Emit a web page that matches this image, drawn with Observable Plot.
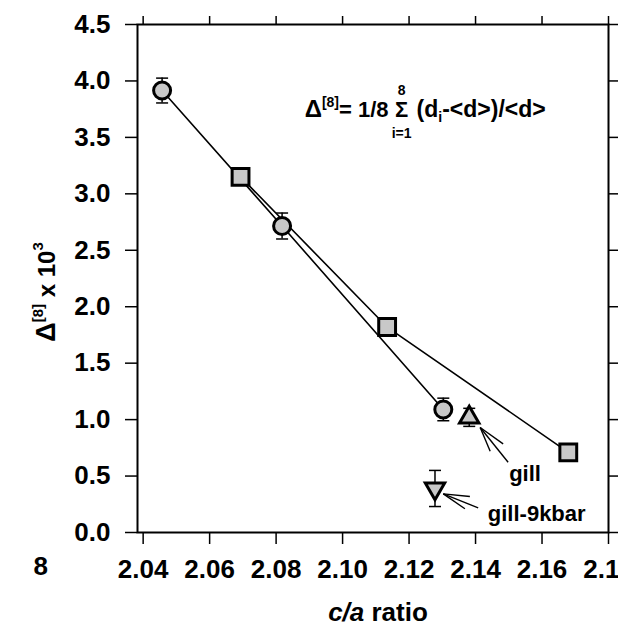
<!DOCTYPE html>
<html>
<head>
<meta charset="utf-8">
<script src="https://cdn.jsdelivr.net/npm/d3@7"></script>
<script src="https://cdn.jsdelivr.net/npm/@observablehq/plot@0.6"></script>
<style>
  html, body { margin: 0; padding: 0; background: white; overflow: hidden; }
  #chart { width: 618px; height: 628px; overflow: hidden; }
</style>
</head>
<body>
<div id="chart"></div>
<script>
// ---- data ----
const xTicks = [2.04, 2.06, 2.08, 2.10, 2.12, 2.14, 2.16, 2.18];
const yTicks = [0, 0.5, 1.0, 1.5, 2.0, 2.5, 3.0, 3.5, 4.0, 4.5];

const circleX = [2.0457, 2.0818, 2.1303];
const circleY = [3.915, 2.715, 1.09];
const circleErr = [0.11, 0.115, 0.10];

const squareX = [2.0693, 2.1134, 2.1679];
const squareY = [3.15, 1.82, 0.71];

const gillX = [2.1381];
const gillY = [1.02];
const gillErr = [0.08];

const gill9X = [2.1278];
const gill9Y = [0.39];
const gill9Err = [0.16];

// annotation arrows (tip -> tail) in data units
const arrowTipX = [2.1414, 2.1414, 2.1414, 2.1303, 2.1303, 2.1303];
const arrowTipY = [0.93, 0.93, 0.93, 0.342, 0.342, 0.342];
const arrowTailX = [2.1483, 2.1498, 2.1444, 2.1383, 2.1408, 2.1368];
const arrowTailY = [0.785, 0.622, 0.72, 0.319, 0.219, 0.21];

const labelText = ["gill", "gill-9kbar"];
const labelX = [2.1549, 2.1584];
const labelY = [0.52, 0.165];

// ---- tables ----
const circles = circleX.map((x, i) => ({x, y: circleY[i], e: circleErr[i]}));
const squares = squareX.map((x, i) => ({x, y: squareY[i]}));
const gill = gillX.map((x, i) => ({x, y: gillY[i], e: gillErr[i]}));
const gill9 = gill9X.map((x, i) => ({x, y: gill9Y[i], e: gill9Err[i]}));
const errs = [...circles, ...gill, ...gill9];
const caps = errs.flatMap(d => [{x: d.x, y: d.y - d.e}, {x: d.x, y: d.y + d.e}]);
const arrows = arrowTipX.map((x, i) => ({x1: x, y1: arrowTipY[i], x2: arrowTailX[i], y2: arrowTailY[i]}));
const labels = labelText.map((t, i) => ({t, x: labelX[i], y: labelY[i]}));

const capSymbol = {
  draw(context) { context.moveTo(-6, 0); context.lineTo(6, 0); }
};

const FILL = "#c8c8c8";
const FONT = "'Liberation Sans', Arial, Helvetica, sans-serif";

const plot = Plot.plot({
  width: 618,
  height: 628,
  marginLeft: 137,
  marginRight: 10,
  marginTop: 24,
  marginBottom: 96,
  x: {domain: [2.0383, 2.18]},
  y: {domain: [0, 4.5]},
  style: {fontFamily: FONT, fontWeight: "bold", fontSize: "26px", color: "black", background: "white", overflow: "hidden"},
  marks: [
    Plot.frame({stroke: "black", strokeWidth: 2}),
    Plot.axisX(xTicks, {tickSize: 12, tickPadding: 15, tickFormat: d => d.toFixed(2), label: null, strokeWidth: 1.5, fontSize: 26, fontWeight: "bold"}),
    Plot.axisX(xTicks, {anchor: "top", tickSize: 9, tickFormat: () => "", label: null, strokeWidth: 1.5}),
    Plot.axisY(yTicks, {tickSize: 12, tickPadding: 15, tickFormat: d => d.toFixed(1), label: null, strokeWidth: 1.5, fontSize: 26, fontWeight: "bold"}),
    Plot.axisY(yTicks, {anchor: "right", tickSize: 9, tickFormat: () => "", label: null, strokeWidth: 1.5}),
    Plot.line(circles, {x: "x", y: "y", stroke: "black", strokeWidth: 1.6}),
    Plot.line(squares, {x: "x", y: "y", stroke: "black", strokeWidth: 1.6}),
    Plot.ruleX(errs, {x: "x", y1: d => d.y - d.e, y2: d => d.y + d.e, stroke: "black", strokeWidth: 1.5}),
    Plot.dot(caps, {x: "x", y: "y", symbol: capSymbol, stroke: "black", strokeWidth: 1.5, fill: "none"}),
    Plot.link(arrows, {x1: "x1", y1: "y1", x2: "x2", y2: "y2", stroke: "black", strokeWidth: 1.4}),
    Plot.dot(circles, {x: "x", y: "y", r: 8.5, fill: FILL, stroke: "black", strokeWidth: 3}),
    Plot.dot(squares, {x: "x", y: "y", symbol: "square", r: 9.5, fill: FILL, stroke: "black", strokeWidth: 3}),
    Plot.dot(gill, {x: "x", y: "y", symbol: "triangle", r: 7.2, fill: FILL, stroke: "black", strokeWidth: 3}),
    Plot.dot(gill9, {x: "x", y: "y", symbol: "triangle", rotate: 180, r: 7.2, fill: FILL, stroke: "black", strokeWidth: 3}),
    Plot.text(labels, {x: "x", y: "y", text: "t", fontSize: 22, fontWeight: "bold", fill: "black"}),
    Plot.text(["8"], {frameAnchor: "bottom-left", dx: -104, dy: 42, fontSize: 26, fontWeight: "bold", fill: "black"})
  ]
});

document.getElementById("chart").appendChild(plot);

// ---- rich-text annotations ----
const svg = d3.select(plot.tagName.toLowerCase() === "svg" ? plot : plot.querySelector("svg"));
const sx = plot.scale("x"), sy = plot.scale("y");

// equation
const ex = sx.apply(2.1179), ey = sy.apply(3.68);
const eq = svg.append("g").attr("font-family", FONT).attr("font-weight", "bold").attr("fill", "black");
const left = eq.append("text").attr("x", ex - 13).attr("y", ey).attr("text-anchor", "end").attr("font-size", 22);
left.append("tspan").text("Δ").attr("font-size", 24);
left.append("tspan").text("[8]").attr("font-size", 14).attr("dy", -10);
left.append("tspan").text("= 1/8").attr("dy", 10);
eq.append("text").attr("x", ex).attr("y", ey).attr("text-anchor", "middle").attr("font-size", 22).text("Σ");
eq.append("text").attr("x", ex).attr("y", ey - 22).attr("text-anchor", "middle").attr("font-size", 14).text("8");
eq.append("text").attr("x", ex).attr("y", ey + 21).attr("text-anchor", "middle").attr("font-size", 14).text("i=1");
const right = eq.append("text").attr("x", ex + 15).attr("y", ey).attr("text-anchor", "start").attr("font-size", 23);
right.append("tspan").text("(d");
right.append("tspan").text("i").attr("font-size", 14).attr("dy", 5);
right.append("tspan").text("-<d>)/<d>").attr("dy", -5);

// y-axis label
const yl = svg.append("text")
  .attr("transform", "translate(55,292) rotate(-90)")
  .attr("text-anchor", "middle")
  .attr("font-family", FONT).attr("font-weight", "bold").attr("font-size", 24).attr("fill", "black");
yl.append("tspan").text("Δ").attr("font-size", 27);
yl.append("tspan").text("[8]").attr("font-size", 15).attr("dy", -12);
yl.append("tspan").text(" x 10").attr("dy", 12);
yl.append("tspan").text("3").attr("font-size", 15).attr("dy", -12);

// x-axis label
const xl = svg.append("text")
  .attr("x", 378).attr("y", 621)
  .attr("text-anchor", "middle")
  .attr("font-family", FONT).attr("font-weight", "bold").attr("font-size", 26).attr("fill", "black");
xl.append("tspan").text("c/a").attr("font-style", "italic");
xl.append("tspan").text(" ratio");
</script>
</body>
</html>
